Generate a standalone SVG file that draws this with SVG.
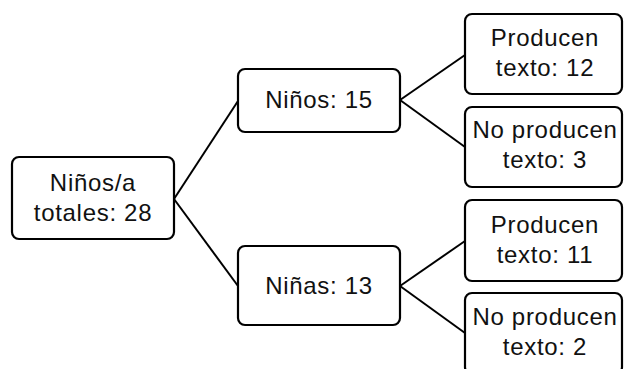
<svg xmlns="http://www.w3.org/2000/svg" width="624" height="369" viewBox="0 0 624 369">
<style>
.box{fill:#fff;stroke:#000;stroke-width:2.2}
.lbl{font-family:"Liberation Sans",Arial,sans-serif;font-size:24px;fill:#111;text-anchor:middle;letter-spacing:0.7px}
.con{stroke:#000;stroke-width:2;fill:none}
</style>
<rect width="624" height="369" fill="#fff"/>
<g id="connectors">
<line class="con" x1="174" y1="199" x2="238" y2="101"/>
<line class="con" x1="174" y1="199" x2="238" y2="286"/>
<line class="con" x1="400" y1="100" x2="465" y2="55"/>
<line class="con" x1="400" y1="100" x2="465" y2="147"/>
<line class="con" x1="400" y1="286" x2="465" y2="241"/>
<line class="con" x1="400" y1="286" x2="465" y2="333"/>
</g>
<g id="root">
<rect class="box" x="12" y="157" width="162" height="82" rx="7"/>
<text class="lbl" x="93" y="191">Niños/a</text>
<text class="lbl" x="93" y="221">totales: 28</text>
</g>
<g id="ninos">
<rect class="box" x="238" y="69" width="162" height="63" rx="7"/>
<text class="lbl" x="319" y="108">Niños: 15</text>
</g>
<g id="ninas">
<rect class="box" x="238" y="246" width="162" height="79" rx="7"/>
<text class="lbl" x="319" y="294">Niñas: 13</text>
</g>
<g id="producen12">
<rect class="box" x="465" y="14" width="157" height="80" rx="7"/>
<text class="lbl" x="545" y="46">Producen</text>
<text class="lbl" x="545" y="76">texto: 12</text>
</g>
<g id="noproducen3">
<rect class="box" x="465" y="107" width="157" height="80" rx="7"/>
<text class="lbl" x="545" y="138">No producen</text>
<text class="lbl" x="545" y="168">texto: 3</text>
</g>
<g id="producen11">
<rect class="box" x="465" y="200" width="157" height="81" rx="7"/>
<text class="lbl" x="545" y="233">Producen</text>
<text class="lbl" x="545" y="263">texto: 11</text>
</g>
<g id="noproducen2">
<rect class="box" x="465" y="293" width="157" height="81" rx="7"/>
<text class="lbl" x="545" y="325">No producen</text>
<text class="lbl" x="545" y="355">texto: 2</text>
</g>
</svg>
